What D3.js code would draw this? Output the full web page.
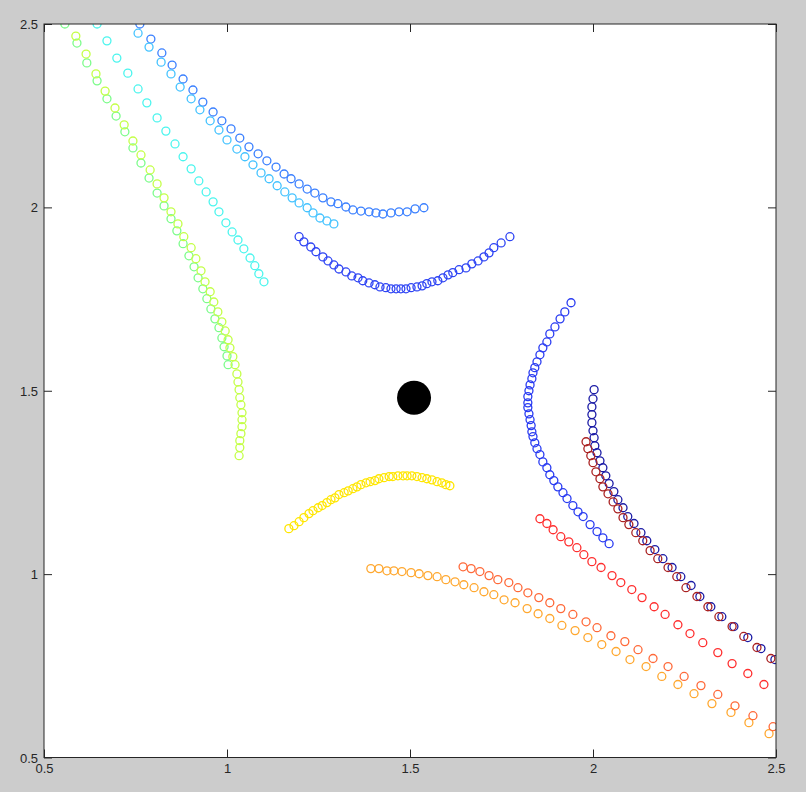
<!DOCTYPE html>
<html>
<head>
<meta charset="utf-8">
<script src="https://cdn.jsdelivr.net/npm/d3@7"></script>
<style>
  html, body { margin: 0; padding: 0; background: #cccccc; }
  svg { display: block; }
  .tick text { font-family: "Liberation Sans", Arial, sans-serif; font-size: 13px; fill: #262626; }
  .tick line { stroke: #262626; }
</style>
</head>
<body>
<svg id="chart" width="806" height="792"></svg>
<script>
// Axis settings
const xDomain = [0.5, 2.5];
const yDomain = [0.5, 2.5];
const tickValues = [0.5, 1, 1.5, 2, 2.5];
const tickLabels = ["0.5", "1", "1.5", "2", "2.5"];

// Trajectories, each a list of [x, y] samples
const navyX = [2.003,2.000,1.997,1.997,1.997,2.000,2.003,2.005,2.011,2.019,2.027,2.035,2.044,2.057,2.068,2.082,2.095,2.112,2.131,2.147,2.169,2.191,2.216,2.240,2.268,2.292,2.322,2.352,2.385,2.423,2.459,2.497];
const navyY = [1.503,1.478,1.456,1.435,1.413,1.391,1.372,1.350,1.331,1.309,1.290,1.268,1.247,1.225,1.203,1.181,1.157,1.138,1.113,1.091,1.067,1.042,1.018,0.993,0.969,0.939,0.911,0.884,0.857,0.827,0.797,0.767];

const blueArcX = [1.940,1.923,1.910,1.896,1.882,1.874,1.863,1.855,1.847,1.841,1.836,1.833,1.828,1.825,1.822,1.822,1.822,1.825,1.828,1.831,1.833,1.836,1.841,1.847,1.855,1.863,1.874,1.882,1.893,1.904,1.918,1.929,1.945,1.959,1.973,1.992,2.011,2.027,2.044];
const blueArcY = [1.740,1.715,1.696,1.674,1.655,1.633,1.617,1.598,1.579,1.563,1.549,1.533,1.516,1.500,1.484,1.467,1.454,1.437,1.421,1.405,1.388,1.375,1.358,1.342,1.326,1.306,1.290,1.271,1.255,1.238,1.222,1.206,1.187,1.170,1.157,1.135,1.116,1.099,1.083];

const blueCupX = [1.197,1.210,1.229,1.243,1.262,1.276,1.292,1.306,1.325,1.341,1.358,1.371,1.388,1.404,1.418,1.434,1.448,1.462,1.475,1.489,1.503,1.519,1.533,1.546,1.560,1.576,1.590,1.604,1.617,1.634,1.653,1.669,1.686,1.702,1.716,1.729,1.749,1.773];
const blueCupY = [1.920,1.906,1.892,1.879,1.865,1.854,1.843,1.832,1.824,1.813,1.808,1.800,1.794,1.789,1.783,1.781,1.778,1.778,1.778,1.778,1.781,1.783,1.786,1.792,1.797,1.800,1.808,1.816,1.822,1.830,1.835,1.846,1.854,1.865,1.876,1.890,1.903,1.920];

const azureX = [0.762,0.792,0.822,0.850,0.880,0.907,0.934,0.962,0.986,1.011,1.035,1.060,1.085,1.109,1.134,1.156,1.175,1.197,1.219,1.240,1.262,1.284,1.303,1.325,1.344,1.366,1.388,1.407,1.426,1.448,1.470,1.492,1.514,1.538];
const azureY = [2.500,2.459,2.421,2.388,2.350,2.320,2.287,2.260,2.236,2.214,2.189,2.165,2.146,2.127,2.110,2.091,2.078,2.064,2.050,2.039,2.026,2.015,2.010,2.001,1.993,1.990,1.988,1.985,1.982,1.985,1.988,1.988,1.996,1.999];

const skyX = [0.757,0.787,0.820,0.847,0.872,0.902,0.926,0.954,0.978,1.000,1.027,1.049,1.071,1.093,1.115,1.137,1.158,1.178,1.197,1.219,1.235,1.254,1.273,1.292];
const skyY = [2.475,2.437,2.396,2.364,2.328,2.296,2.266,2.236,2.211,2.184,2.159,2.138,2.116,2.094,2.078,2.059,2.042,2.026,2.012,1.999,1.985,1.971,1.963,1.955];

const cyanX = [0.645,0.672,0.699,0.729,0.757,0.781,0.809,0.833,0.858,0.880,0.902,0.923,0.943,0.962,0.978,0.997,1.014,1.030,1.046,1.063,1.076,1.087,1.101];
const cyanY = [2.500,2.454,2.407,2.366,2.323,2.285,2.244,2.208,2.173,2.138,2.105,2.072,2.042,2.015,1.988,1.958,1.933,1.911,1.887,1.862,1.841,1.819,1.797];

const greenX = [0.557,0.590,0.617,0.645,0.672,0.697,0.721,0.743,0.765,0.787,0.809,0.828,0.847,0.863,0.880,0.896,0.910,0.921,0.934,0.945,0.956,0.967,0.978,0.986,0.992,1.000,1.003];
const greenY = [2.500,2.448,2.394,2.345,2.296,2.249,2.206,2.162,2.121,2.080,2.039,2.004,1.969,1.936,1.901,1.868,1.838,1.808,1.778,1.751,1.723,1.696,1.672,1.644,1.620,1.595,1.571];

const limeX = [0.587,0.615,0.642,0.667,0.694,0.719,0.743,0.765,0.790,0.809,0.828,0.847,0.866,0.882,0.902,0.915,0.929,0.940,0.954,0.964,0.975,0.986,0.995,1.003,1.008,1.016,1.022,1.027,1.030,1.033,1.035,1.038,1.041,1.041,1.041,1.038,1.035,1.035,1.033];
const limeY = [2.467,2.418,2.364,2.317,2.271,2.225,2.181,2.143,2.102,2.064,2.026,1.988,1.955,1.920,1.890,1.860,1.827,1.797,1.770,1.742,1.715,1.688,1.663,1.639,1.617,1.593,1.571,1.546,1.524,1.503,1.481,1.462,1.440,1.421,1.402,1.383,1.364,1.345,1.323];

const yellowX = [1.169,1.183,1.197,1.210,1.224,1.235,1.249,1.260,1.273,1.284,1.295,1.306,1.320,1.331,1.344,1.355,1.366,1.380,1.391,1.404,1.415,1.429,1.443,1.453,1.467,1.481,1.492,1.505,1.519,1.533,1.546,1.560,1.574,1.587,1.598,1.609];
const yellowY = [1.124,1.132,1.143,1.154,1.165,1.173,1.181,1.187,1.195,1.203,1.208,1.217,1.222,1.227,1.233,1.238,1.244,1.249,1.252,1.255,1.260,1.263,1.266,1.266,1.268,1.268,1.268,1.268,1.266,1.263,1.260,1.257,1.252,1.249,1.244,1.241];

const orangeX = [1.393,1.415,1.437,1.456,1.478,1.503,1.525,1.549,1.574,1.598,1.623,1.647,1.675,1.702,1.729,1.757,1.787,1.820,1.850,1.882,1.915,1.951,1.986,2.024,2.063,2.101,2.145,2.188,2.232,2.276,2.325,2.377,2.426,2.481];
const orangeY = [1.015,1.015,1.009,1.009,1.007,1.004,1.001,0.996,0.993,0.985,0.979,0.971,0.963,0.952,0.944,0.930,0.922,0.906,0.892,0.879,0.860,0.846,0.827,0.808,0.789,0.767,0.748,0.721,0.699,0.674,0.647,0.623,0.595,0.565];

const vermilionX = [1.645,1.667,1.691,1.716,1.740,1.770,1.795,1.822,1.852,1.882,1.912,1.945,1.981,2.011,2.049,2.087,2.123,2.164,2.205,2.249,2.295,2.341,2.388,2.437,2.492];
const vermilionY = [1.020,1.015,1.007,0.996,0.985,0.977,0.963,0.949,0.936,0.922,0.906,0.890,0.870,0.854,0.832,0.816,0.794,0.770,0.748,0.721,0.696,0.672,0.641,0.614,0.584];

const redX = [1.855,1.874,1.891,1.912,1.934,1.956,1.975,1.997,2.022,2.052,2.076,2.106,2.134,2.167,2.197,2.232,2.265,2.300,2.341,2.380,2.423,2.467];
const redY = [1.151,1.138,1.121,1.102,1.088,1.072,1.053,1.034,1.018,0.996,0.977,0.958,0.936,0.911,0.890,0.862,0.838,0.813,0.786,0.756,0.729,0.699];

const maroonX = [1.981,1.986,1.994,2.000,2.008,2.019,2.027,2.041,2.055,2.068,2.082,2.098,2.117,2.136,2.156,2.177,2.205,2.229,2.254,2.284,2.314,2.344,2.380,2.412,2.448,2.486];
const maroonY = [1.361,1.342,1.323,1.304,1.279,1.260,1.238,1.219,1.197,1.178,1.154,1.135,1.113,1.091,1.064,1.042,1.018,0.993,0.963,0.939,0.911,0.884,0.857,0.830,0.800,0.770];

// Fixed point marker
const centerX = [1.511];
const centerY = [1.481];

const series = [
  { xs: navyX,      ys: navyY,      color: "#1c1ca6" },
  { xs: blueArcX,   ys: blueArcY,   color: "#2a3cf2" },
  { xs: blueCupX,   ys: blueCupY,   color: "#2e44f4" },
  { xs: azureX,     ys: azureY,     color: "#3b80ff" },
  { xs: skyX,       ys: skyY,       color: "#45c3ff" },
  { xs: cyanX,      ys: cyanY,      color: "#4cf5ee" },
  { xs: greenX,     ys: greenY,     color: "#7cfc8a" },
  { xs: limeX,      ys: limeY,      color: "#c4ff48" },
  { xs: yellowX,    ys: yellowY,    color: "#ffe600" },
  { xs: orangeX,    ys: orangeY,    color: "#ffa830" },
  { xs: vermilionX, ys: vermilionY, color: "#ff6a3a" },
  { xs: redX,       ys: redY,       color: "#ff3030" },
  { xs: maroonX,    ys: maroonY,    color: "#aa2222" }
];

const plot = { left: 44, right: 776, top: 24, bottom: 757.5 };
const svg = d3.select("#chart");

const x = d3.scaleLinear().domain(xDomain).range([plot.left, plot.right]);
const y = d3.scaleLinear().domain(yDomain).range([plot.bottom, plot.top]);

// White plotting area
svg.append("rect")
  .attr("x", plot.left).attr("y", plot.top)
  .attr("width", plot.right - plot.left).attr("height", plot.bottom - plot.top)
  .attr("fill", "#ffffff");

// Markers, clipped to the axes box
svg.append("clipPath").attr("id", "plotClip")
  .append("rect")
  .attr("x", plot.left).attr("y", plot.top)
  .attr("width", plot.right - plot.left).attr("height", plot.bottom - plot.top);

const marks = svg.append("g").attr("clip-path", "url(#plotClip)");

series.forEach(s => {
  marks.append("g")
    .selectAll("circle")
    .data(d3.zip(s.xs, s.ys))
    .join("circle")
    .attr("cx", d => x(d[0]))
    .attr("cy", d => y(d[1]))
    .attr("r", 4)
    .attr("fill", "none")
    .attr("stroke", s.color)
    .attr("stroke-width", 1.3);
});

marks.append("g")
  .selectAll("circle")
  .data(d3.zip(centerX, centerY))
  .join("circle")
  .attr("cx", d => x(d[0]))
  .attr("cy", d => y(d[1]))
  .attr("r", 17)
  .attr("fill", "#000000");

// Axes with inward ticks on all four sides
const fmt = v => tickLabels[tickValues.indexOf(v)];

svg.append("g")
  .attr("transform", `translate(0,${plot.bottom})`)
  .call(d3.axisBottom(x).tickValues(tickValues).tickFormat(fmt).tickSize(-8).tickPadding(6))
  .call(g => g.select(".domain").remove());

svg.append("g")
  .attr("transform", `translate(${plot.left},0)`)
  .call(d3.axisLeft(y).tickValues(tickValues).tickFormat(fmt).tickSize(-8).tickPadding(6))
  .call(g => g.select(".domain").remove())
  .call(g => g.selectAll(".tick text").attr("dy", "0.35em"));

svg.append("g")
  .attr("transform", `translate(0,${plot.top})`)
  .call(d3.axisTop(x).tickValues(tickValues).tickFormat("").tickSize(-8))
  .call(g => g.select(".domain").remove());

svg.append("g")
  .attr("transform", `translate(${plot.right},0)`)
  .call(d3.axisRight(y).tickValues(tickValues).tickFormat("").tickSize(-8))
  .call(g => g.select(".domain").remove());

// Box outline
svg.append("rect")
  .attr("x", plot.left).attr("y", plot.top)
  .attr("width", plot.right - plot.left).attr("height", plot.bottom - plot.top)
  .attr("fill", "none")
  .attr("stroke", "#262626")
  .attr("stroke-width", 1);
</script>
</body>
</html>
